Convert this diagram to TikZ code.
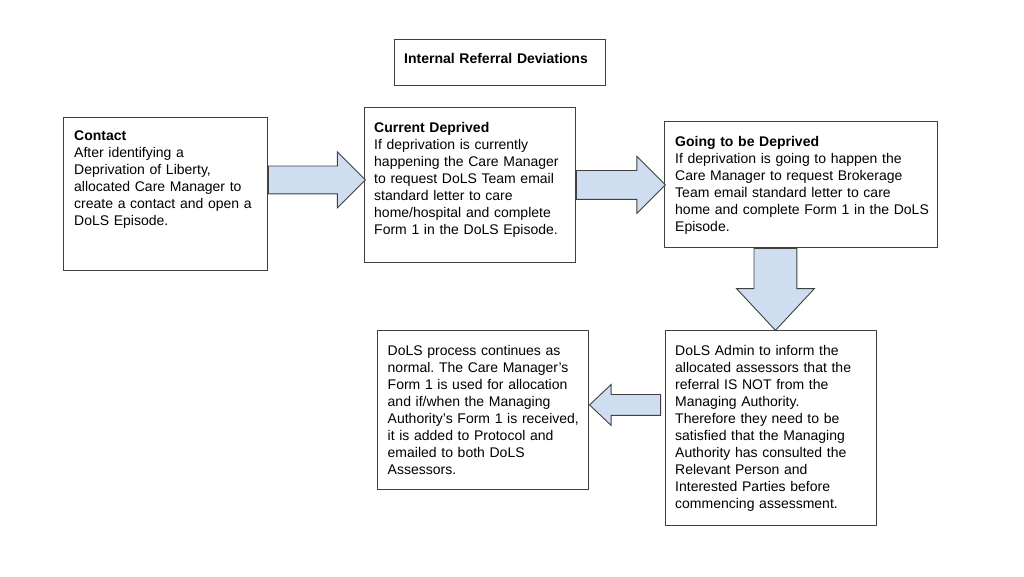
\documentclass[tikz,border=0pt]{standalone}
\usepackage{fontspec}
\setmainfont{Liberation Sans}
\usepackage{tikz}
\usetikzlibrary{shapes.arrows,positioning}
\definecolor{framegray}{RGB}{64,64,64}
\definecolor{arrowblue}{RGB}{207,221,240}
\tikzset{
  panel/.style     = {shape=rectangle, draw=framegray, line width=0.9pt,
                      anchor=north west, inner sep=0pt},
  paneltext/.style = {anchor=north west, inner sep=0pt, align=left,
                      text width=#1, font=\fontsize{14}{17}\selectfont\frenchspacing},
  flow/.style      = {single arrow, draw=framegray, line width=0.9pt,
                      fill=arrowblue, inner xsep=0pt, anchor=tail,
                      single arrow tip angle=90}
}
\newcommand{\heading}[1]{\textbf{#1}\\}

\begin{document}
\begin{tikzpicture}[x=1pt, y=-1pt]
  \useasboundingbox (0,0) rectangle (1024,576);

  % boxes
  \node[panel, minimum width=211pt, minimum height=46pt]  (title)   at (394,39)  {};
  \node[panel, minimum width=204pt, minimum height=153pt] (contact) at (63,117)  {};
  \node[panel, minimum width=211pt, minimum height=155pt] (current) at (364,107) {};
  \node[panel, minimum width=273pt, minimum height=126pt] (going)   at (664,121) {};
  \node[panel, minimum width=211pt, minimum height=159pt] (process) at (377,330) {};
  \node[panel, minimum width=211pt, minimum height=195pt] (admin)   at (665,330) {};

  % texts
  \node[paneltext=195pt, below right=14pt and 10pt of title.north west] (title-txt)
    {\textbf{Internal Referral Deviations}};
  \node[paneltext=190pt, below right=14pt and 11pt of contact.north west] (contact-txt)
    {\heading{Contact}
     After identifying a\\ Deprivation of Liberty,\\ allocated Care Manager to\\
     create a contact and open a\\ DoLS Episode.};
  \node[paneltext=198pt, below right=15pt and 10pt of current.north west] (current-txt)
    {\heading{Current Deprived}
     If deprivation is currently\\ happening the Care Manager\\
     to request DoLS Team email\\ standard letter to care\\
     home/hospital and complete\\ Form 1 in the DoLS Episode.};
  \node[paneltext=260pt, below right=15pt and 11pt of going.north west] (going-txt)
    {\heading{Going to be Deprived}
     If deprivation is going to happen the\\ Care Manager to request Brokerage\\
     Team email standard letter to care\\ home and complete Form 1 in the DoLS\\
     Episode.};
  \node[paneltext=198pt, below right=15pt and 10.5pt of process.north west] (process-txt)
    {DoLS process continues as\\ normal. The Care Manager's\\
     Form 1 is used for allocation\\ and if/when the Managing\\
     Authority's Form 1 is received,\\ it is added to Protocol and\\
     emailed to both DoLS\\ Assessors.};
  \node[paneltext=198pt, below right=15pt and 10pt of admin.north west] (admin-txt)
    {DoLS Admin to inform the\\ allocated assessors that the\\
     referral IS NOT from the\\ Managing Authority.\\
     Therefore they need to be\\ satisfied that the Managing\\
     Authority has consulted the\\ Relevant Person and\\
     Interested Parties before\\ commencing assessment.};

  % block arrows
  \node[flow, minimum height=97pt, inner ysep=13.5pt, single arrow head extend=14pt]
    (contact-current) at ([yshift=14pt]contact.east) {};
  \node[flow, minimum height=89pt, inner ysep=14pt, single arrow head extend=14pt]
    (current-going) at (current.east) {};
  \node[flow, minimum height=82pt, inner xsep=21pt, inner ysep=0pt,
        single arrow head extend=17.5pt,
        single arrow tip angle=86, shape border rotate=270]
    (going-admin) at ([xshift=-25.5pt]going.south) {};
  \node[flow, minimum height=71pt, inner ysep=10pt, single arrow head extend=10pt,
        single arrow tip angle=87, shape border rotate=180, anchor=tip]
    (admin-process) at ([yshift=5pt]process.east) {};
\end{tikzpicture}
\end{document}
